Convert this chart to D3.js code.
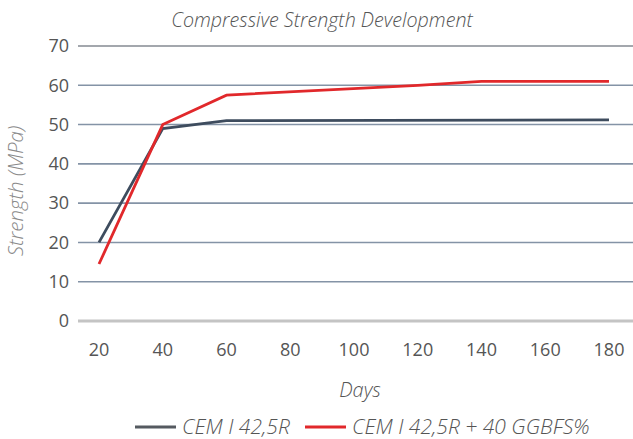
<!DOCTYPE html>
<html>
<head>
<meta charset="utf-8">
<script src="https://cdn.jsdelivr.net/npm/d3@7"></script>
<style>
  body { margin: 0; background: #fff; }
  text { font-family: "Open Sans", sans-serif; }
</style>
</head>
<body>
<svg id="chart" width="633" height="439"></svg>
<script>
// data
var days = [20, 40, 60, 80, 100, 120, 140, 160, 180];
var yTicks = [0, 10, 20, 30, 40, 50, 60, 70];
var cemDays = [20, 40, 60, 180];
var cemVals = [20, 49, 51, 51.2];
var ggbfsDays = [20, 40, 60, 120, 140, 180];
var ggbfsVals = [14.5, 50, 57.5, 60, 61, 61];
var seriesNames = ["CEM I 42,5R", "CEM I 42,5R + 40 GGBFS%"];
var seriesColors = ["#3e4c5e", "#e1282b"];

var svg = d3.select("#chart");

var x = d3.scaleLinear().domain([20, 180]).range([99, 609]);
var y = d3.scaleLinear().domain([0, 70]).range([321, 46]);

// gridlines
svg.selectAll("line.grid")
  .data(yTicks)
  .join("line")
    .attr("class", "grid")
    .attr("x1", 78).attr("x2", 633)
    .attr("y1", d => y(d)).attr("y2", d => y(d))
    .attr("stroke", d => d === 0 ? "#c4c4c4" : (d === 70 ? "#a3a7ad" : "#8493a6"))
    .attr("stroke-width", d => d === 0 ? 3 : (d === 70 ? 2.2 : 1.6));

// y tick labels
svg.selectAll("text.ytick")
  .data(yTicks)
  .join("text")
    .attr("class", "ytick")
    .attr("x", 69)
    .attr("y", d => y(d))
    .attr("dy", "0.35em")
    .attr("text-anchor", "end")
    .attr("fill", "#555")
    .style("font-size", "18px")
    .text(d => d);

// x tick labels
svg.selectAll("text.xtick")
  .data(days)
  .join("text")
    .attr("class", "xtick")
    .attr("x", d => x(d))
    .attr("y", 356)
    .attr("text-anchor", "middle")
    .attr("fill", "#555")
    .style("font-size", "18px")
    .text(d => d);

// lines
var line = d3.line()
  .x(d => x(d[0]))
  .y(d => y(d[1]));

var series = [
  d3.zip(cemDays, cemVals),
  d3.zip(ggbfsDays, ggbfsVals)
];

svg.selectAll("path.series")
  .data(series)
  .join("path")
    .attr("class", "series")
    .attr("fill", "none")
    .attr("stroke", (d, i) => seriesColors[i])
    .attr("stroke-width", 2.8)
    .attr("d", line);

// titles
svg.append("text")
  .attr("x", 322).attr("y", 27)
  .attr("text-anchor", "middle")
  .attr("fill", "#555")
  .style("font-size", "19.7px").style("font-style", "italic").style("font-weight", 300)
  .text("Compressive Strength Development");

svg.append("text")
  .attr("transform", "translate(23,191) rotate(-90)")
  .attr("text-anchor", "middle")
  .attr("fill", "#8a8a8a")
  .style("font-size", "20.5px").style("font-style", "italic").style("font-weight", 300)
  .text("Strength (MPa)");

svg.append("text")
  .attr("x", 360).attr("y", 397)
  .attr("text-anchor", "middle")
  .attr("fill", "#555")
  .style("font-size", "20px").style("font-style", "italic").style("font-weight", 300)
  .text("Days");

// legend
var legX = [135, 305];
var leg = svg.selectAll("g.leg")
  .data(seriesNames)
  .join("g")
    .attr("class", "leg")
    .attr("transform", (d, i) => `translate(${legX[i]},427)`);

leg.append("line")
  .attr("x1", 0).attr("x2", 41)
  .attr("stroke", (d, i) => i === 0 ? "#555a60" : seriesColors[i])
  .attr("stroke-width", 2.8);

leg.append("text")
  .attr("x", 47).attr("dy", "0.35em")
  .attr("fill", "#555")
  .style("font-size", "21px").style("font-style", "italic").style("font-weight", 300)
  .text(d => d);
</script>
</body>
</html>
